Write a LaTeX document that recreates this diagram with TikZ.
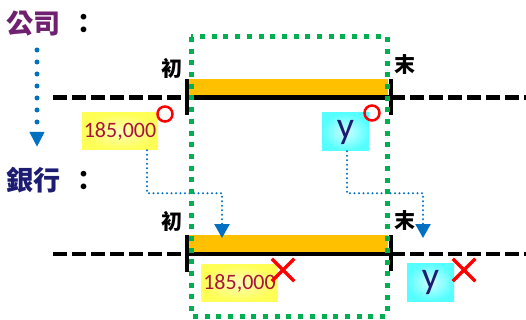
\documentclass[tikz,border=0pt]{standalone}
\usepackage{fontspec}
\newfontfamily\cjk{Noto Sans CJK TC}
\newfontfamily\numfont{Carlito}
\usetikzlibrary{arrows.meta,shapes.misc}

\definecolor{compPurple}{HTML}{702070}
\definecolor{bankNavy}{HTML}{1C1C72}
\definecolor{numRed}{HTML}{A8153A}
\definecolor{barOrange}{HTML}{FFC000}
\definecolor{boxGreen}{HTML}{00B050}
\definecolor{flowBlue}{HTML}{0070C0}
\definecolor{yellowIn}{HTML}{FFFFB8}
\definecolor{yellowOut}{HTML}{FFFF55}
\definecolor{cyanIn}{HTML}{D0FFFF}
\definecolor{cyanOut}{HTML}{55FFFF}

\tikzstyle{dashLine}=[line width=4.5pt,dash pattern=on 14pt off 5pt]
\tikzstyle{solidLine}=[line width=4.5pt]
\tikzstyle{tickLine}=[line width=4.5pt]
\tikzstyle{periodBar}=[fill=barOrange]
\tikzstyle{greenBox}=[draw=boxGreen,line width=5pt,dash pattern=on 5pt off 6.7pt]
\tikzstyle{yellowBox}=[inner sep=0pt,minimum width=76pt,minimum height=37pt,inner color=yellowIn,outer color=yellowOut,text=numRed,font=\numfont\fontsize{22}{22}\selectfont]
\tikzstyle{cyanBox}=[inner sep=0pt,minimum width=47pt,minimum height=38pt,inner color=cyanIn,outer color=cyanOut,text=bankNavy,font=\numfont\fontsize{38}{38}\selectfont]
\tikzstyle{titleText}=[anchor=west,inner sep=0pt,font=\cjk\bfseries\fontsize{27}{27}\selectfont]
\tikzstyle{markText}=[inner sep=0pt,font=\cjk\bfseries\fontsize{21}{21}\selectfont]
\tikzstyle{okMark}=[shape=circle,draw=red,line width=2.5pt,minimum size=15pt,inner sep=0pt]
\tikzstyle{ngMark}=[shape=cross out,draw=red,line width=3.5pt,minimum size=19pt,inner sep=0pt]
\tikzstyle{flowLine}=[draw=flowBlue,line width=2.2pt,line cap=round,dash pattern=on 0pt off 4.5pt,-{Triangle[width=15pt,length=14pt]}]
\tikzstyle{bigFlow}=[draw=flowBlue,line width=5pt,line cap=round,dash pattern=on 0pt off 12pt,-{Triangle[width=14pt,length=15pt]}]

\begin{document}
\begin{tikzpicture}[x=1pt,y=-1pt]
        \useasboundingbox (0,0) rectangle (526,320);

        % titles
        \node[titleText] (comp) at (6,24)  {\textcolor{compPurple}{公司}\hspace{10pt}：};
        \node[titleText] (bank) at (6,180) {\textcolor{bankNavy}{銀行}\hspace{10pt}：};

        \coordinate (d0) at (37,50);
        \coordinate (d1) at (37,147);
        \draw[bigFlow] (d0) -- (d1);

        % company timeline
        \coordinate (tL) at (53,97.5);
        \coordinate (tA) at (187,97.5);
        \coordinate (tB) at (391,97.5);
        \coordinate (tR) at (526,97.5);
        \fill[periodBar] (189,79) rectangle (388,95);
        \draw[dashLine] (tL) -- (tA);
        \draw[solidLine] (tA) -- (tB);
        \draw[dashLine] (tB) -- (tR);
        \draw[tickLine] (187,79) -- (187,115);
        \draw[tickLine] (391,79) -- (391,115);
        \node[markText] (b1) at (172,68) {初};
        \node[markText] (e1) at (405,65) {末};

        % bank timeline
        \coordinate (uL) at (53,254);
        \coordinate (uA) at (187,254);
        \coordinate (uB) at (391,254);
        \coordinate (uR) at (526,254);
        \fill[periodBar] (189,235) rectangle (388,252);
        \draw[dashLine] (uL) -- (uA);
        \draw[solidLine] (uA) -- (uB);
        \draw[dashLine] (uB) -- (uR);
        \draw[tickLine] (187,235) -- (187,272);
        \draw[tickLine] (391,235) -- (391,271);
        \node[markText] (b2) at (172,221) {初};
        \node[markText] (e2) at (405,221) {末};

        % amounts
        \node[yellowBox] (amt1) at (120,131.5) {185,000};
        \node[cyanBox] (y1) at (345.5,132) {y};
        \node[okMark] (ok1) at (165,114) {};
        \node[okMark] (ok2) at (372,113) {};

        \node[yellowBox] (amt2) at (239.5,283) {185,000};
        \node[cyanBox] (y2) at (430.5,282) {y};
        \node[ngMark] (ng1) at (283,270) {};
        \node[ngMark] (ng2) at (464,270) {};

        \coordinate (in1) at (222,238);
        \coordinate (in2) at (423,238);
        \draw[flowLine] ([xshift=27pt]amt1.south) -- ++(0,43) -| (in1);
        \draw[flowLine] ([xshift=1.5pt]y1.south) -- ++(0,42) -| (in2);

        % period window
        \draw[greenBox] (191,37) rectangle (387,316);
    \end{tikzpicture}
\end{document}
